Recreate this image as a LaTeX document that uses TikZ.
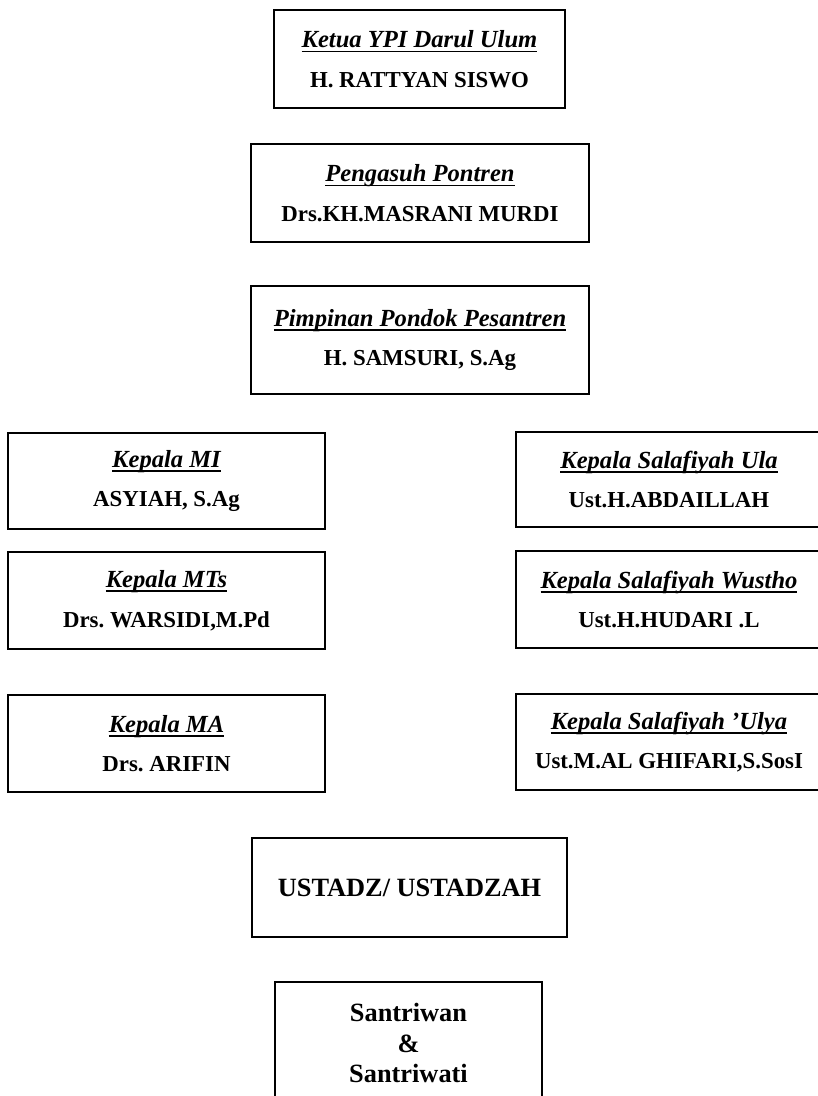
\documentclass[tikz,border=0pt]{standalone}
\usepackage{fontspec}
\setmainfont{Liberation Serif}
\usepackage{tikz}
\usepackage{xcolor}

\newcommand{\jabatan}[1]{\leavevmode{\fontsize{14}{22.5}\selectfont\bfseries\itshape
    \setbox0\hbox{#1}\rlap{\rule[-2.6pt]{\wd0}{0.9pt}}\box0}}

\begin{document}
\frenchspacing
\begin{tikzpicture}[x=0.02cm, y=-0.02cm,
    box/.style={draw, line width=1.4pt, rectangle, align=center, inner sep=0pt,
        font=\fontsize{13}{22.5}\selectfont}]
    \useasboundingbox (0,0) rectangle (818,1096);
    \clip (0,0) rectangle (818,1096);

    \node[box, minimum width=5.82cm, minimum height=1.96cm] (ketua) at (419.5,59) {\jabatan{Ketua YPI Darul Ulum}\\ \textbf{H. RATTYAN SISWO}};
    \node[box, minimum width=6.76cm, minimum height=1.96cm] (pengasuh) at (420,193) {\jabatan{Pengasuh Pontren}\\ \textbf{Drs.KH.MASRANI MURDI}};
    \node[box, minimum width=6.76cm, minimum height=2.16cm] (pimpinan) at (420,340) {\jabatan{Pimpinan Pondok Pesantren}\\ \textbf{H. SAMSURI, S.Ag}};

    \node[box, minimum width=6.34cm, minimum height=1.92cm] (mi) at (166.5,481) {\jabatan{Kepala MI}\\ \textbf{ASYIAH, S.Ag}};
    \node[box, minimum width=6.34cm, minimum height=1.94cm] (mts) at (166.5,600.5) {\jabatan{Kepala MTs}\\ \textbf{Drs. WARSIDI,M.Pd}};
    \node[box, minimum width=6.34cm, minimum height=1.94cm] (ma) at (166.5,743.5) {\jabatan{Kepala MA}\\ \textbf{Drs. ARIFIN}};

    \node[box, minimum width=6.12cm, minimum height=1.90cm] (ula) at (669,479.5) {\jabatan{Kepala Salafiyah Ula}\\ \textbf{Ust.H.ABDAILLAH}};
    \node[box, minimum width=6.12cm, minimum height=1.94cm] (wustho) at (669,599.5) {\jabatan{Kepala Salafiyah Wustho}\\ \textbf{Ust.H.HUDARI .L}};
    \node[box, minimum width=6.12cm, minimum height=1.92cm] (ulya) at (669,742) {\jabatan{Kepala Salafiyah 'Ulya}\\ \textbf{Ust.M.AL GHIFARI,S.SosI}};

    \node[box, minimum width=6.30cm, minimum height=1.98cm, font=\fontsize{15}{18}\selectfont] (ustadz) at (409.5,887.5) {\textbf{USTADZ/ USTADZAH}};
    \node[box, minimum width=5.34cm, minimum height=2.44cm, font=\fontsize{15}{17.5}\selectfont] (santri) at (408.5,1043) {\textbf{Santriwan}\\ \textbf{\&}\\ \textbf{Santriwati}};
\end{tikzpicture}
\end{document}
